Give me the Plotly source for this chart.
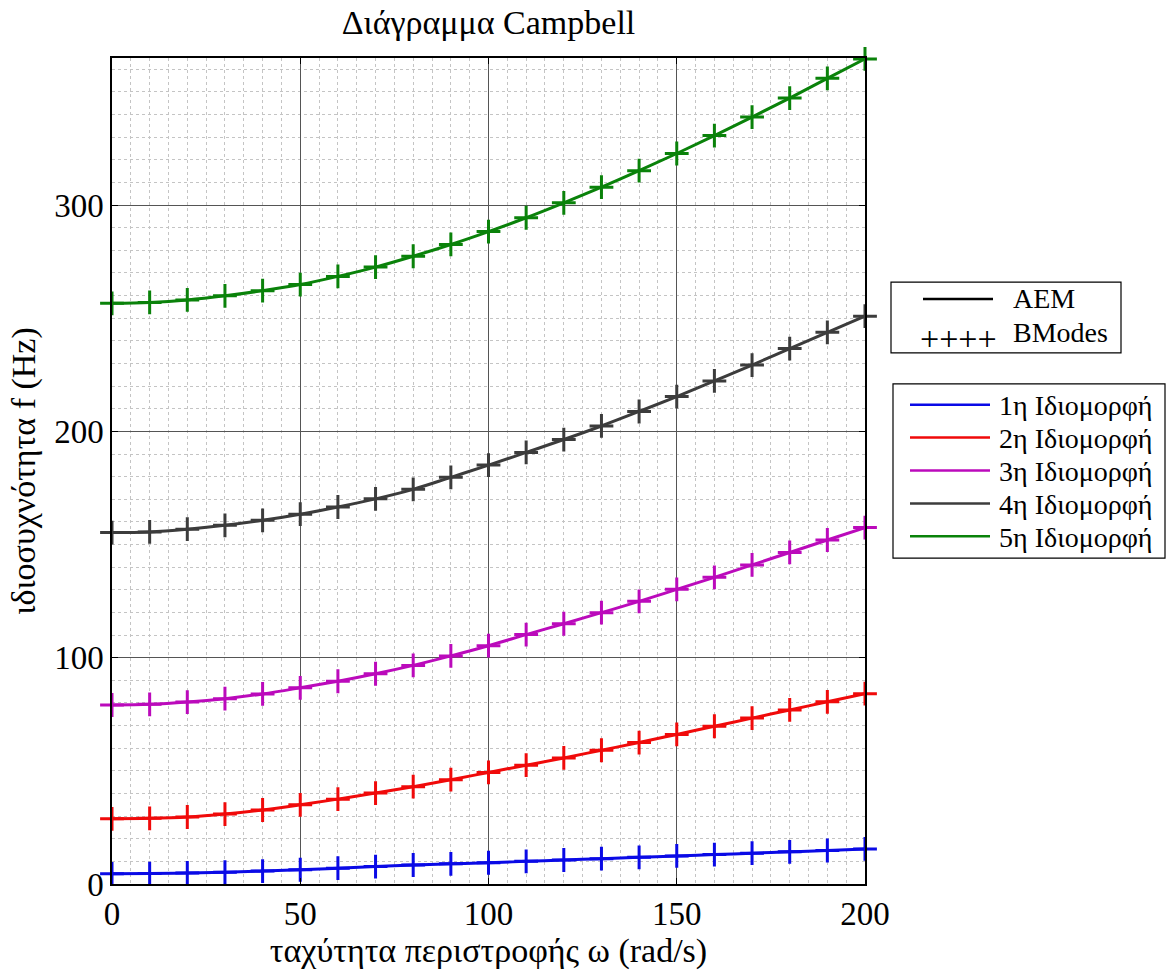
import plotly.graph_objects as go

# Rotational speed (rad/s) and natural frequencies (Hz) of the first five modes
omega = [0, 10, 20, 30, 40, 50, 60, 70, 80, 90, 100,
         110, 120, 130, 140, 150, 160, 170, 180, 190, 200]

mode1 = [4.5, 4.6, 4.9, 5.2, 5.7, 6.3, 7.0, 7.7, 8.4, 8.9, 9.4,
         10.0, 10.6, 11.2, 11.8, 12.4, 13.0, 13.6, 14.2, 14.8, 15.5]
mode2 = [28.8, 29.0, 29.6, 30.9, 32.7, 35.0, 37.5, 40.2, 43.0, 46.1, 49.3,
         52.5, 55.7, 59.1, 62.5, 66.1, 69.7, 73.3, 76.9, 80.5, 84.1]
mode3 = [79.1, 79.4, 80.4, 81.9, 84.0, 86.7, 89.6, 92.9, 96.6, 100.8, 105.3,
         110.2, 115.0, 119.9, 124.9, 130.2, 135.5, 141.0, 146.5, 152.0, 157.5]
mode4 = [155.3, 155.6, 156.8, 158.5, 160.7, 163.4, 166.6, 170.2, 174.4, 179.7, 185.1,
         190.7, 196.4, 202.4, 208.8, 215.4, 222.3, 229.3, 236.6, 243.8, 250.9]
mode5 = [256.6, 257.0, 258.1, 259.9, 262.2, 264.9, 268.5, 272.6, 277.4, 282.6, 288.3,
         294.4, 301.0, 307.9, 315.2, 322.8, 330.7, 338.9, 347.3, 356.0, 364.6]

mode_names = ["1η Ιδιομορφή", "2η Ιδιομορφή", "3η Ιδιομορφή", "4η Ιδιομορφή", "5η Ιδιομορφή"]
mode_colors = ["#0a0ae6", "#f00a0a", "#bb0abb", "#3c3c3c", "#0a820a"]
modes = [mode1, mode2, mode3, mode4, mode5]

method_names = ["AEM", "BModes"]

x_ticks = [0, 50, 100, 150, 200]
y_ticks = [0, 100, 200, 300]

FONT = "Liberation Serif"

fig = go.Figure()

for name, color, vals in zip(mode_names, mode_colors, modes):
    # AEM curve
    fig.add_trace(go.Scatter(
        x=omega, y=vals, mode="lines", name=name,
        line=dict(color=color, width=3, shape="spline"),
        showlegend=False,
    ))
    # BModes points
    fig.add_trace(go.Scatter(
        x=omega, y=vals, mode="markers", name=name + " (" + method_names[1] + ")",
        marker=dict(symbol="cross-thin", size=17, color=color,
                    line=dict(color=color, width=3)),
        cliponaxis=False, showlegend=False,
    ))

# plot-area pixel box, used to place the hand-drawn legends
PX0, PX1, PY0, PY1 = 112, 865, 58, 887


def px(x):
    return (x - PX0) / (PX1 - PX0)


def py(y):
    return (PY1 - y) / (PY1 - PY0)


shapes = []
annotations = []

# legend: method key
shapes.append(dict(type="rect", xref="paper", yref="paper",
                   x0=px(891), x1=px(1121), y0=py(354), y1=py(283),
                   line=dict(color="black", width=1.2), fillcolor="white", layer="above"))
shapes.append(dict(type="line", xref="paper", yref="paper",
                   x0=px(923), x1=px(993), y0=py(300), y1=py(300),
                   line=dict(color="black", width=2.5), layer="above"))
annotations.append(dict(xref="paper", yref="paper", x=px(918), y=py(340),
                        text="++++", showarrow=False, xanchor="left", yanchor="middle",
                        font=dict(family=FONT, size=34, color="black")))
annotations.append(dict(xref="paper", yref="paper", x=px(1011), y=py(299),
                        text=method_names[0], showarrow=False, xanchor="left", yanchor="middle",
                        font=dict(family=FONT, size=28, color="black")))
annotations.append(dict(xref="paper", yref="paper", x=px(1011), y=py(333),
                        text=method_names[1], showarrow=False, xanchor="left", yanchor="middle",
                        font=dict(family=FONT, size=28, color="black")))

# legend: mode key
shapes.append(dict(type="rect", xref="paper", yref="paper",
                   x0=px(893), x1=px(1165), y0=py(560), y1=py(385),
                   line=dict(color="black", width=1.2), fillcolor="white", layer="above"))
for i, (name, color) in enumerate(zip(mode_names, mode_colors)):
    yrow = 406 + 33 * i
    shapes.append(dict(type="line", xref="paper", yref="paper",
                       x0=px(910), x1=px(990), y0=py(yrow), y1=py(yrow),
                       line=dict(color=color, width=2.5), layer="above"))
    annotations.append(dict(xref="paper", yref="paper", x=px(997), y=py(yrow + 1),
                            text=name, showarrow=False, xanchor="left", yanchor="middle",
                            font=dict(family=FONT, size=28, color="black")))

axis_common = dict(
    ticks="inside", ticklen=6, tickcolor="black", tickwidth=1,
    showline=True, linecolor="black", linewidth=1.5, mirror="ticks",
    showgrid=True, gridcolor="#555555", gridwidth=1,
    zeroline=False,
    tickfont=dict(family=FONT, size=33, color="black"),
)

fig.update_layout(
    width=1168, height=974,
    margin=dict(l=PX0, r=1168 - PX1, t=PY0, b=974 - PY1),
    paper_bgcolor="white", plot_bgcolor="white",
    font=dict(family=FONT, color="black"),
    title=dict(text="Διάγραμμα Campbell", x=0.5, xref="paper",
               y=1 - 22 / 974, yanchor="middle",
               font=dict(family=FONT, size=34, color="black")),
    xaxis=dict(range=[0, 200], tickvals=x_ticks,
               minor=dict(dtick=5, showgrid=True, gridcolor="#c4c4c4",
                          griddash="dot", gridwidth=1, ticks=""),
               title=dict(text="ταχύτητα περιστροφής ω (rad/s)",
                          font=dict(family=FONT, size=34, color="black"), standoff=6),
               **axis_common),
    yaxis=dict(range=[0, 365], tickvals=y_ticks,
               minor=dict(dtick=10, showgrid=True, gridcolor="#c4c4c4",
                          griddash="dot", gridwidth=1, ticks=""),
               title=dict(text="ιδιοσυχνότητα f (Hz)",
                          font=dict(family=FONT, size=34, color="black"), standoff=8),
               **axis_common),
    shapes=shapes,
    annotations=annotations,
    showlegend=False,
)

fig.write_html("out.html")
